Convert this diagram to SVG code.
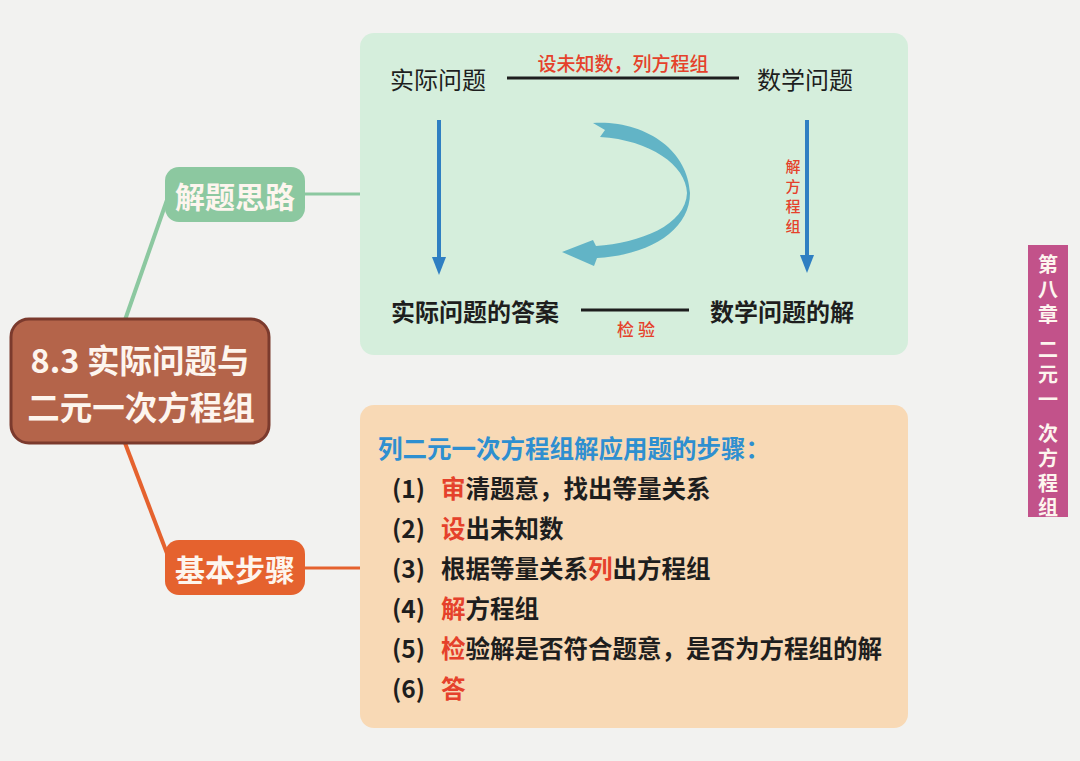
<svg xmlns="http://www.w3.org/2000/svg" width="1080" height="761" viewBox="0 0 1080 761">
<defs>
<style>
.cjk{font-family:"Noto Sans CJK SC","Liberation Sans",sans-serif;dominant-baseline:central}
.b{font-weight:700}
.red{fill:#e5412b}
.dark{fill:#1e1e1e}
.white{fill:#fdf5ee}
.blue{stroke:#2f7fc2;stroke-width:4;fill:none}
.bh{fill:#2f7fc2}
</style>
</defs>
<rect width="1080" height="761" fill="#f2f2f0"/>

<g id="connectors">
<line x1="125" y1="320" x2="167" y2="200" stroke="#8cc8a0" stroke-width="4"/>
<line x1="305" y1="194" x2="362" y2="194" stroke="#8cc8a0" stroke-width="3"/>
<line x1="125" y1="443" x2="168" y2="556" stroke="#e5622e" stroke-width="4"/>
<line x1="305" y1="568" x2="362" y2="568" stroke="#e5622e" stroke-width="3"/>
</g>

<g id="panel-thinking">
<rect x="360" y="33" width="548" height="322" rx="14" fill="#d5eedc"/>
<text class="cjk dark" x="390" y="78" font-size="24">实际问题</text>
<line x1="507" y1="78" x2="739" y2="78" stroke="#1e1e1e" stroke-width="3"/>
<text class="cjk red" x="623" y="62" font-size="19" font-weight="500" text-anchor="middle">设未知数，列方程组</text>
<text class="cjk dark" x="757" y="78" font-size="24">数学问题</text>
<line class="blue" x1="439" y1="120" x2="439" y2="260"/>
<polygon class="bh" points="432,257 446,257 439,275"/>
<line class="blue" x1="807" y1="120" x2="807" y2="258"/>
<polygon class="bh" points="800,255 814,255 807,273"/>
<g class="cjk red" font-size="15" font-weight="500" text-anchor="middle">
<text x="793" y="165">解</text>
<text x="793" y="185">方</text>
<text x="793" y="205">程</text>
<text x="793" y="225">组</text>
</g>
<path d="M593 123 C645 120 688 150 690 193 C690 230 650 255 597 258 L594 266 L562 252 L593 240 L596 246 C640 243 686 225 687 193 C686 165 650 140 600 137 L605 130 Z" fill="#62b4c6"/>
<text class="cjk b dark" x="391" y="310" font-size="24">实际问题的答案</text>
<line x1="581" y1="310" x2="689" y2="310" stroke="#1e1e1e" stroke-width="3"/>
<text class="cjk red" x="636" y="328" font-size="17" font-weight="500" text-anchor="middle">检 验</text>
<text class="cjk b dark" x="710" y="310" font-size="24">数学问题的解</text>
</g>

<g id="panel-steps">
<rect x="360" y="405" width="548" height="323" rx="14" fill="#f8d9b5"/>
<text class="cjk b" x="378" y="447" font-size="24.5" fill="#2e8fd0">列二元一次方程组解应用题的步骤：</text>
<g class="cjk b dark" font-size="24.5">
<text x="392" y="487">(1)<tspan x="441" class="red">审</tspan>清题意，找出等量关系</text>
<text x="392" y="527">(2)<tspan x="441" class="red">设</tspan>出未知数</text>
<text x="392" y="567">(3)<tspan x="441">根据等量关系</tspan><tspan class="red">列</tspan>出方程组</text>
<text x="392" y="607">(4)<tspan x="441" class="red">解</tspan>方程组</text>
<text x="392" y="647">(5)<tspan x="441" class="red">检</tspan>验解是否符合题意，是否为方程组的解</text>
<text x="392" y="687">(6)<tspan x="441" class="red">答</tspan></text>
</g>
</g>

<g id="node-center">
<rect x="11" y="319" width="258" height="124" rx="18" fill="#b4644a" stroke="#7b3a2d" stroke-width="3"/>
<text class="cjk b white" x="140" y="358" font-size="32.5" text-anchor="middle">8.3 实际问题与</text>
<text class="cjk b white" x="141" y="405" font-size="32.5" text-anchor="middle">二元一次方程组</text>
</g>

<g id="node-thinking">
<rect x="165" y="167" width="140" height="55" rx="14" fill="#8cc8a0"/>
<text class="cjk b white" x="235" y="195" font-size="30" text-anchor="middle">解题思路</text>
</g>

<g id="node-steps">
<rect x="165" y="540" width="140" height="55" rx="14" fill="#e5622e"/>
<text class="cjk b white" x="235" y="568" font-size="30" text-anchor="middle">基本步骤</text>
</g>

<g id="chapter-tab">
<rect x="1028" y="245" width="40" height="272" fill="#c2528a"/>
<g class="cjk white" font-size="20" font-weight="700" text-anchor="middle">
<text x="1048" y="263">第</text>
<text x="1048" y="288">八</text>
<text x="1048" y="313">章</text>
<text x="1048" y="348">二</text>
<text x="1048" y="373">元</text>
<text x="1048" y="398">一</text>
<text x="1048" y="432">次</text>
<text x="1048" y="457">方</text>
<text x="1048" y="482">程</text>
<text x="1048" y="506">组</text>
</g>
</g>
</svg>
